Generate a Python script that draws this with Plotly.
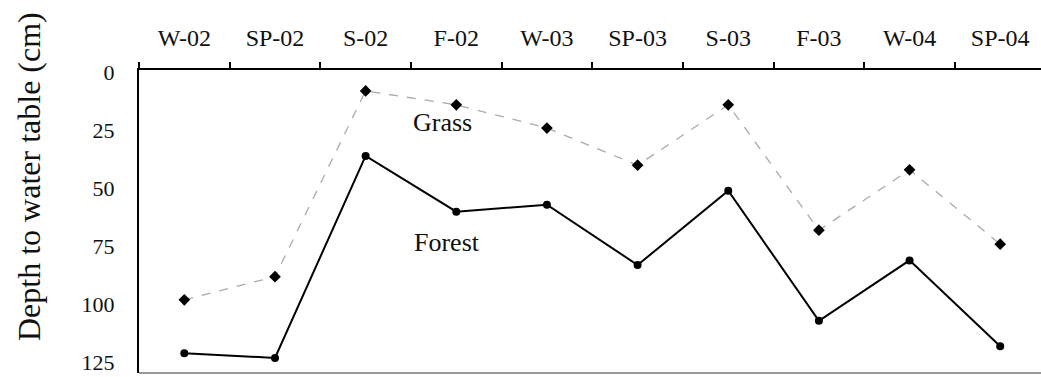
import plotly.graph_objects as go

seasons = ["W-02", "SP-02", "S-02", "F-02", "W-03", "SP-03", "S-03", "F-03", "W-04", "SP-04"]
grass_depth = [98, 88, 8, 14, 24, 40, 14, 68, 42, 74]
forest_depth = [121, 123, 36, 60, 57, 83, 51, 107, 81, 118]
y_ticks = [0, 25, 50, 75, 100, 125]

serif = "Liberation Serif"

fig = go.Figure()

fig.add_trace(go.Scatter(
    x=seasons, y=grass_depth, name="Grass", mode="lines+markers",
    line=dict(color="#aaaaaa", width=1.3, dash="dash"),
    marker=dict(symbol="diamond", size=9, color="black"),
))
fig.add_trace(go.Scatter(
    x=seasons, y=forest_depth, name="Forest", mode="lines+markers",
    line=dict(color="black", width=2),
    marker=dict(symbol="circle", size=8, color="black"),
))

# in-plot series labels
fig.add_annotation(x=2.85, y=21.5, text="Grass", showarrow=False,
                   font=dict(family=serif, size=26, color="#111"))
fig.add_annotation(x=2.9, y=73.5, text="Forest", showarrow=False,
                   font=dict(family=serif, size=26, color="#111"))

# vertical axis title, placed left of the tick labels
fig.add_annotation(xref="paper", yref="paper", x=-0.122, y=0.65,
                   xanchor="center", yanchor="middle", textangle=-90,
                   text="Depth to water table (cm)", showarrow=False,
                   font=dict(family=serif, size=32, color="#111"))

# grey baseline along the bottom of the plot area
fig.add_shape(type="line", xref="paper", yref="paper", x0=0, x1=1, y0=0, y1=0,
              line=dict(color="#999999", width=2))

fig.update_layout(
    width=1041, height=377,
    margin=dict(l=139, r=0, t=70, b=4),
    paper_bgcolor="white", plot_bgcolor="white",
    showlegend=False,
    font=dict(family=serif, color="#111"),
    xaxis=dict(
        side="top", type="category", range=[-0.5, 9.45],
        showline=True, linecolor="black", linewidth=2,
        ticks="outside", tickson="boundaries", ticklen=6, tickwidth=2, tickcolor="black",
        ticklabelstandoff=12,
        tickfont=dict(family=serif, size=24, color="#111"),
        showgrid=False, zeroline=False,
    ),
    yaxis=dict(
        range=[129.5, -1], tickvals=y_ticks,
        showline=True, linecolor="black", linewidth=2,
        ticks="", ticklabelstandoff=18,
        tickfont=dict(family=serif, size=22, color="#111"),
        showgrid=False, zeroline=False,
    ),
)

fig.write_html("out.html")
